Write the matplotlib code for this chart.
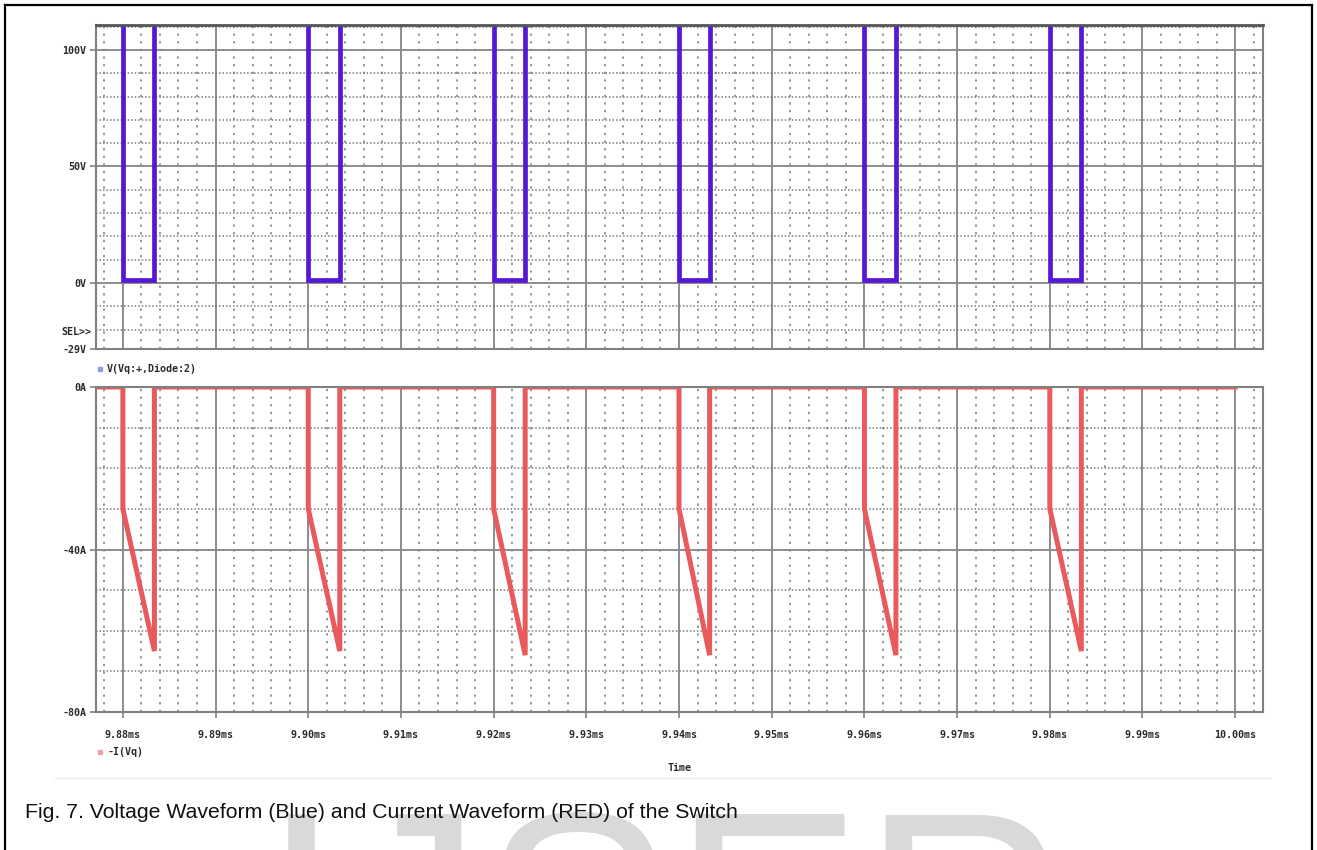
import matplotlib
matplotlib.use("Agg")
import matplotlib.pyplot as plt
from matplotlib import font_manager
from matplotlib.lines import Line2D
from matplotlib.ticker import FixedLocator, MultipleLocator

# ---- data (time in ms) ----
t_start = 9.8771
t_end = 10.000
switch_on = [9.8800, 9.9000, 9.9200, 9.9400, 9.9600, 9.9800]
switch_off = [9.8834, 9.9034, 9.9234, 9.9433, 9.9634, 9.9834]

v_off_level = 115.0   # switch blocking voltage (above plotted range, clipped)
v_on_level = 1.5      # conduction voltage
i_step = [-30, -30, -30, -30, -30, -30]     # current right after turn-on
i_peak = [-65, -65, -66, -66, -66, -65]     # current just before turn-off

time_ticks = [9.88, 9.89, 9.90, 9.91, 9.92, 9.93, 9.94, 9.95, 9.96, 9.97, 9.98, 9.99, 10.00]
time_labels = ['9.88ms', '9.89ms', '9.90ms', '9.91ms', '9.92ms', '9.93ms', '9.94ms',
               '9.95ms', '9.96ms', '9.97ms', '9.98ms', '9.99ms', '10.00ms']
v_ticks = [-28.3, 0, 50, 100]
v_labels = ['-29V', '0V', '50V', '100V']
i_ticks = [-80, -40, 0]
i_labels = ['-80A', '-40A', '0A']

caption = "Fig. 7. Voltage Waveform (Blue) and Current Waveform (RED) of the Switch"

# ---- build piecewise waveforms from the edges ----
t_v = [t_start]
v = [v_off_level]
t_i = [t_start]
cur = [0.0]
for on, off, a, b in zip(switch_on, switch_off, i_step, i_peak):
    t_v += [on, on, off, off]
    v += [v_off_level, v_on_level, v_on_level, v_off_level]
    t_i += [on, on, off, off]
    cur += [0.0, a, b, 0.0]
t_v.append(t_end)
v.append(v_off_level)
t_i.append(t_end)
cur.append(0.0)

# condensed bold font for the simulator labels, if it is there
names = {f.name for f in font_manager.fontManager.ttflist}
if 'Liberation Sans Narrow' in names:
    MONO = dict(family='Liberation Sans Narrow', fontweight='bold', fontsize=8.2, color='#2a2a2a')
else:
    MONO = dict(family='DejaVu Sans Mono', fontweight='bold', fontsize=7.2, color='#2a2a2a')

BLUE = '#5418d6'
RED = '#e85a5c'
GRID = '#7a7a7a'

W, H = 1317, 850
fig = plt.figure(figsize=(W / 100, H / 100), dpi=100)
fig.patch.set_facecolor('white')

left = 96 / W
width = (1263 - 96) / W
ax_v = fig.add_axes([left, (H - 349) / H, width, (349 - 25) / H])
ax_i = fig.add_axes([left, (H - 712) / H, width, (712 - 387) / H])


def style_axes(ax):
    ax.set_xlim(t_start, 10.0030)
    ax.xaxis.set_major_locator(FixedLocator(time_ticks))
    ax.xaxis.set_minor_locator(MultipleLocator(0.002))
    ax.grid(which='major', color='#8c8c8c', linewidth=1.4, linestyle='-')
    ax.grid(which='minor', axis='x', color=GRID, linewidth=1.1, linestyle=(0, (1.5, 3.5)))
    ax.grid(which='minor', axis='y', color=GRID, linewidth=1.1, linestyle=(0, (1, 1.3)))
    ax.set_axisbelow(True)
    for s in ax.spines.values():
        s.set_color('#808080')
        s.set_linewidth(1.5)
    ax.tick_params(which='major', direction='out', length=4, width=1.2, color='#808080', pad=3)
    ax.tick_params(which='minor', length=0)


# upper panel: switch voltage
style_axes(ax_v)
ax_v.plot(t_v, v, color=BLUE, linewidth=3.4, solid_joinstyle='miter')
ax_v.set_ylim(-28.3, 110.7)
ax_v.yaxis.set_major_locator(FixedLocator(v_ticks))
ax_v.yaxis.set_minor_locator(MultipleLocator(10))
ax_v.set_yticklabels(v_labels, **MONO)
ax_v.tick_params(axis='x', labelbottom=False, length=0)
ax_v.spines['top'].set_linestyle((0, (1.5, 1)))
ax_v.spines['top'].set_color('#555555')
ax_v.spines['top'].set_linewidth(2)
ax_v.text(-0.004, 0.052, 'SEL>>', transform=ax_v.transAxes, ha='right', va='center', **MONO)

# lower panel: switch current
style_axes(ax_i)
ax_i.plot(t_i, cur, color=RED, linewidth=3.6, solid_joinstyle='miter')
ax_i.set_ylim(-80, 0)
ax_i.yaxis.set_major_locator(FixedLocator(i_ticks))
ax_i.yaxis.set_minor_locator(MultipleLocator(10))
ax_i.set_yticklabels(i_labels, **MONO)
ax_i.set_xticklabels(time_labels, **MONO)
ax_i.tick_params(axis='x', pad=9)

# trace names and x label
fig.add_artist(Line2D([100 / W], [(H - 369) / H], marker='s', markersize=3,
                      color='#8fa0d8', linestyle='none'))
fig.text(107 / W, (H - 369) / H, 'V(Vq:+,Diode:2)', ha='left', va='center', **MONO)
fig.add_artist(Line2D([100 / W], [(H - 752) / H], marker='s', markersize=3,
                      color='#f0a0a8', linestyle='none'))
fig.text(107 / W, (H - 752) / H, '-I(Vq)', ha='left', va='center', **MONO)
fig.text(679.5 / W, (H - 768) / H, 'Time', ha='center', va='center', **MONO)

# faint edge of the screenshot
fig.add_artist(Line2D([55 / W, 1270 / W], [(H - 778) / H] * 2, color='#ececec', linewidth=1))

# watermark behind caption (cut by the page edge, as in the source)
fig.text(262 / W, (H - 1010) / H, 'IJSER', family='Liberation Sans', fontsize=205,
         color='#d9d9d9', ha='left', va='baseline', zorder=0)
fig.text(25 / W, (H - 813) / H, caption, family='Liberation Sans', fontsize=15.3,
         color='#111111', ha='left', va='center', zorder=2)

# page frame
frame = dict(color='black', linewidth=1.6)
fig.add_artist(Line2D([5 / W, 5 / W], [0, (H - 5) / H], **frame))
fig.add_artist(Line2D([5 / W, 1312 / W], [(H - 5) / H] * 2, **frame))
fig.add_artist(Line2D([1312 / W, 1312 / W], [0, (H - 5) / H], **frame))

fig.savefig('out.png', dpi=100)
